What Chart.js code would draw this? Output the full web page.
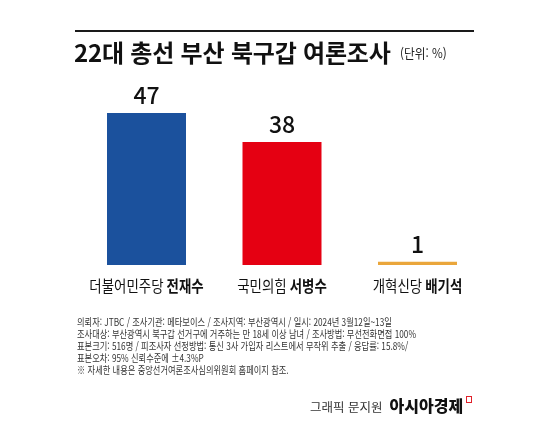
<!DOCTYPE html>
<html lang="ko">
<head>
<meta charset="utf-8">
<script src="https://cdn.jsdelivr.net/npm/chart.js@4"></script>
<style>
  html, body { margin: 0; padding: 0; background: #fff; }
  #wrap { position: relative; width: 550px; height: 423px; overflow: hidden; font-family: "Noto Sans CJK KR", sans-serif; color: #111; }
  #chart { position: absolute; left: 0; top: 0; }
  .abs { position: absolute; white-space: nowrap; transform-origin: left center; }
  #rule { left: 75px; top: 30px; width: 399px; height: 1.5px; background: #1a1a1a; }
  #title { left: 74px; top: 39px; font-size: 24px; line-height: 26px; font-weight: 700; letter-spacing: -0.2px; }
  #unit { left: 400px; top: 45px; font-size: 13px; line-height: 15px; color: #222; transform: scaleX(0.9); }
  #notes { left: 77px; top: 316px; font-size: 10.5px; line-height: 12px; color: #333; transform: scaleX(0.785); transform-origin: left top; }
  #credit { left: 310px; top: 396px; font-size: 12.5px; line-height: 18px; color: #333; }
  #credit b { font-size: 16px; color: #111; margin-left: 7px; font-weight: 900; }
  #mark { display: inline-block; width: 4px; height: 5px; border: 1.5px solid #e0202a; border-bottom-width: 1px; margin-left: 3px; vertical-align: 9px; }
</style>
</head>
<body>
<div id="wrap">
  <canvas id="chart" width="550" height="423"></canvas>
  <div id="rule" class="abs"></div>
  <div id="title" class="abs">22대 총선 부산 북구갑 여론조사</div>
  <div id="unit" class="abs">(단위: %)</div>
  <div id="notes" class="abs"></div>
  <div id="credit" class="abs">그래픽 문지원<b>아시아경제</b><span id="mark"></span></div>
</div>
<script>
const parties = ['더불어민주당', '국민의힘', '개혁신당'];
const candidates = ['전재수', '서병수', '배기석'];
const support = [47, 38, 1];
const barColors = ['#1b519d', '#e50012', '#eaa63b'];
const notes = [
  '의뢰자: JTBC / 조사기관: 메타보이스 / 조사지역: 부산광역시 / 일시: 2024년 3월12일~13일',
  '조사대상: 부산광역시 북구갑 선거구에 거주하는 만 18세 이상 남녀 / 조사방법: 무선전화면접 100%',
  '표본크기: 516명 / 피조사자 선정방법: 통신 3사 가입자 리스트에서 무작위 추출 / 응답률: 15.8%/',
  '표본오차: 95% 신뢰수준에 ±4.3%P',
  '※ 자세한 내용은 중앙선거여론조사심의위원회 홈페이지 참조.'
];

document.getElementById('notes').innerHTML = notes.map(n => `<div>${n}</div>`).join('');

// value on top of each bar, party + (bold) candidate underneath
const barLabels = {
  id: 'barLabels',
  afterDatasetsDraw(chart) {
    const { ctx, scales: { x, y } } = chart;
    ctx.save();
    ctx.fillStyle = '#111';
    support.forEach((v, i) => {
      const cx = x.getPixelForValue(i);
      ctx.font = '500 23px "Noto Sans CJK KR"';
      ctx.textAlign = 'center';
      ctx.textBaseline = 'alphabetic';
      ctx.fillText(String(v), cx, y.getPixelForValue(v) - 9);

      const regular = '400 16px "Noto Sans CJK KR"';
      const bold = '700 16px "Noto Sans CJK KR"';
      const first = parties[i] + ' ';
      ctx.font = regular;
      const w1 = ctx.measureText(first).width;
      ctx.font = bold;
      const w2 = ctx.measureText(candidates[i]).width;
      ctx.save();
      ctx.translate(cx, y.getPixelForValue(0) + 21);
      ctx.scale(0.84, 1);
      ctx.textAlign = 'left';
      ctx.textBaseline = 'middle';
      ctx.font = regular;
      ctx.fillText(first, -(w1 + w2) / 2, 0);
      ctx.font = bold;
      ctx.fillText(candidates[i], -(w1 + w2) / 2 + w1, 0);
      ctx.restore();
    });
    ctx.restore();
  }
};

new Chart(document.getElementById('chart'), {
  type: 'bar',
  data: {
    labels: parties.map((p, i) => p + ' ' + candidates[i]),
    datasets: [{
      data: support,
      backgroundColor: barColors,
      borderWidth: 0,
      barPercentage: 0.583,
      categoryPercentage: 1
    }]
  },
  options: {
    responsive: false,
    animation: false,
    devicePixelRatio: 1,
    layout: { padding: { left: 78.75, right: 64.75, top: 103.25, bottom: 158 } },
    plugins: { legend: { display: false }, tooltip: { enabled: false } },
    scales: {
      x: { display: false },
      y: { display: false, min: 0, max: 50 }
    }
  },
  plugins: [barLabels]
});
</script>
</body>
</html>
